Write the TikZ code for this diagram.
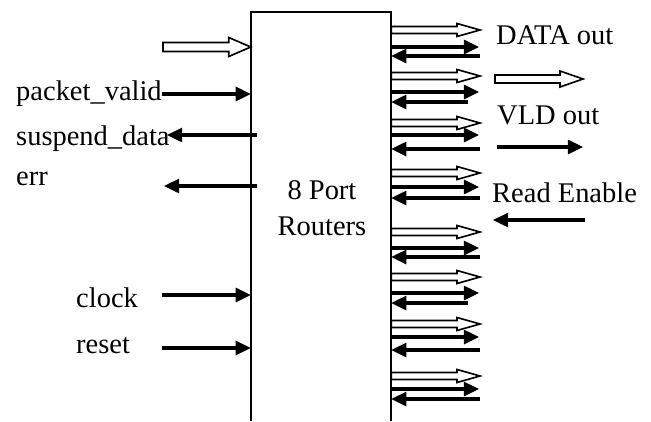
\documentclass[tikz,border=0pt]{standalone}
\usepackage{fontspec}
\setmainfont{Liberation Serif}
\usepackage{tikz}
\usetikzlibrary{arrows.meta, positioning, calc}

\newcommand{\lblfont}{\fontsize{24.3}{30.6}\selectfont}
% hollow (outlined) arrow from #1 to #2: shaft half, head half, head length
\newcommand{\hollowarrow}[5]{%
  \draw[hollow] ($(#1)+(0,-#3)$) -- ($(#2)+(-#5,-#3)$) -- ($(#2)+(-#5,-#4)$) -- (#2)
    -- ($(#2)+(-#5,#4)$) -- ($(#2)+(-#5,#3)$) -- ($(#1)+(0,#3)$) -- cycle;}

\begin{document}
\begin{tikzpicture}[
        x=0.03cm, y=-0.03cm,
        every node/.style={font=\lblfont, inner sep=0pt},
        pinlabel/.style={anchor=base west},
        sig/.style={line width=2.6pt, -{Triangle[length=13pt, width=12pt]}},
        hollow/.style={line width=1.4pt, fill=white, line join=miter},
        boxline/.style={line width=1.9pt}
    ]
        \useasboundingbox (0,0) rectangle (651,421);

        % Router block (open at the bottom)
        \node[minimum width=4.2cm, minimum height=12.27cm] (router) at (321,216.5) {};
        \draw[boxline] (router.south west) -- (router.north west) -- (router.north east) -- (router.south east);
        \node[align=center] (rlabel) at (322,208.5) {8 Port\\Routers};

        % Left side signals
        \node[pinlabel] (pv) at (16,100) {packet\_valid};
        \node[pinlabel] (sd) at (16,145) {suspend\_data};
        \node[pinlabel] (er) at (16,185) {err};
        \node[pinlabel] (ck) at (76,307) {clock};
        \node[pinlabel] (rs) at (76,353) {reset};

        \coordinate (din) at (163,47);
        \coordinate (dinend) at (router.west |- 0,47);
        \hollowarrow{din}{dinend}{4.5}{9.5}{22}

        \coordinate (pvin) at (162,94);
        \draw[sig] (pvin) -- (router.west |- pvin);
        \coordinate (sdout) at (167,135);
        \draw[sig] ($(router.west |- sdout)+(6,0)$) -- (sdout);
        \coordinate (erout) at (164,186);
        \draw[sig] ($(router.west |- erout)+(6,0)$) -- (erout);
        \coordinate (ckin) at (162,295);
        \draw[sig] (ckin) -- (router.west |- ckin);
        \coordinate (rsin) at (162,348);
        \draw[sig] (rsin) -- (router.west |- rsin);

        % Right side ports
        \foreach \o/\f/\b/\e [count=\i] in {30/47/56/480, 76/92/102/468, 123/135/149/480,
                173/187/198/480, 232/248/257/480, 277/293/303/468, 324/337/350/480, 376/389/399/480} {
            \coordinate (po\i) at (router.east |- 0,\o);
            \coordinate (pe\i) at (480,\o);
            \hollowarrow{po\i}{pe\i}{3.5}{6.5}{23}
            \coordinate (fe\i) at (479,\f);
            \draw[sig] (router.east |- fe\i) -- (fe\i);
            \coordinate (bo\i) at (\e,\b);
            \draw[sig] (bo\i) -- (router.east |- bo\i);
        }

        % Legend
        \node[pinlabel] (ldata) at (496,44) {DATA out};
        \coordinate (lo) at (495,79);
        \coordinate (le) at (583,79);
        \hollowarrow{lo}{le}{4}{8}{23}
        \node[pinlabel] (lvld) at (497,124) {VLD out};
        \coordinate (vo) at (497,147);
        \coordinate (ve) at (583,147);
        \draw[sig] (vo) -- (ve);
        \node[pinlabel] (lread) at (492,202) {Read Enable};
        \coordinate (ro) at (585,220);
        \coordinate (re) at (493,220);
        \draw[sig] (ro) -- (re);

    \end{tikzpicture}
\end{document}
